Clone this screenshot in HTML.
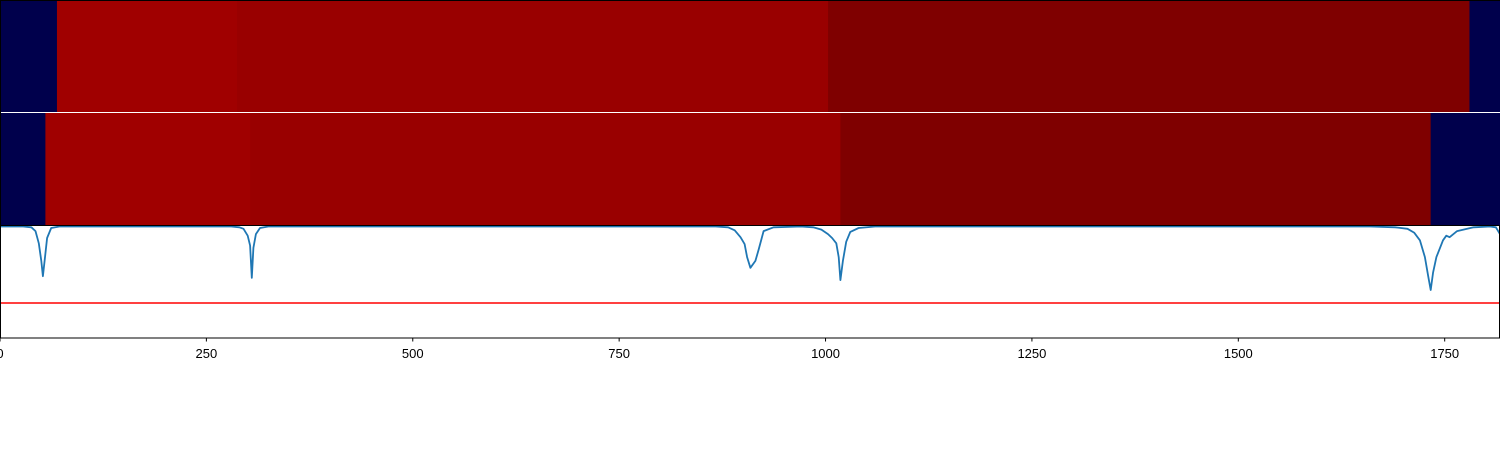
<!DOCTYPE html>
<html><head><meta charset="utf-8"><style>
body{margin:0;background:#fff;width:1500px;height:450px;overflow:hidden;font-family:"Liberation Sans","DejaVu Sans",sans-serif}
</style></head><body>
<svg id="chart" width="1500" height="450" xmlns="http://www.w3.org/2000/svg"></svg>
<script>
const xTicks=[0,250,500,750,1000,1250,1500,1750];
const xMax=1817;
const row1Starts=[0,69,287,1003,1780];
const row1Ends=[69,287,1003,1780,1817];
const row1Colors=["#00004c","#a00000","#990000","#7f0000","#00004c"];
const row2Starts=[0,55,303,1018,1733];
const row2Ends=[55,303,1018,1733,1817];
const row2Colors=["#00004c","#a00000","#990000","#7f0000","#00004c"];
const lineX=[0,28,38,43,47,50,52,54,57,62,72,200,280,290,295,300,303,305,307,310,315,325,600,867,882,890,897,902,905,909,915,919,925,937,970,985,995,1003,1008,1013,1016,1018,1021,1025,1030,1040,1060,1300,1660,1690,1705,1713,1720,1726,1730,1733,1736,1740,1748,1752,1756,1765,1785,1805,1812,1817];
const lineY=[1,1,0.99,0.94,0.78,0.55,0.35,0.55,0.85,0.98,1,1,1,0.99,0.97,0.88,0.75,0.33,0.72,0.9,0.98,1,1,1,0.99,0.95,0.86,0.77,0.6,0.46,0.55,0.7,0.94,0.99,1,0.99,0.96,0.9,0.85,0.78,0.6,0.3,0.55,0.8,0.93,0.98,1,1,1,0.99,0.97,0.92,0.82,0.6,0.35,0.17,0.4,0.6,0.82,0.88,0.86,0.94,0.99,1,0.99,0.9];
const redLevel=0;
const NS="http://www.w3.org/2000/svg";
const svg=document.getElementById('chart');
const sx=v=>v/xMax*1500;
const sy=v=>303-76.5*v;
function mk(t,a){const e=document.createElementNS(NS,t);for(const k in a)e.setAttribute(k,a[k]);svg.appendChild(e);return e;}
function row(starts,ends,colors,y0,h,name){
 for(let i=0;i<starts.length;i++){
  const r=mk('rect',{x:sx(starts[i]),y:y0,width:sx(ends[i])-sx(starts[i])+0.5,height:h,fill:colors[i]});
  
  
 }
}
row(row1Starts,row1Ends,row1Colors,0,112,'heatmap-row-1');
row(row2Starts,row2Ends,row2Colors,113,112.5,'heatmap-row-2');
const rl=mk('line',{x1:0,x2:1500,y1:sy(redLevel),y2:sy(redLevel),stroke:'#ff0000','stroke-width':1.5});


let d='';lineX.forEach((x,i)=>{d+=(i?'L':'M')+sx(x).toFixed(1)+','+sy(lineY[i]).toFixed(1);});
const p=mk('path',{d:d,fill:'none',stroke:'#1f77b4','stroke-width':1.8,'stroke-linejoin':'round'});


const fr=mk('path',{d:'M0.5,225.5V338M1499.5,225.5V338M0,225.5H1500M0,338H1500',stroke:'#000','stroke-width':1,fill:'none'});


const topB=mk('path',{d:'M0,0.5H1500M0.5,0V225',stroke:'#000','stroke-width':1,fill:'none'});


xTicks.forEach(t=>{
 const x=sx(t);
 const tk=mk('line',{x1:x,x2:x,y1:338,y2:341.5,stroke:'#000','stroke-width':1});
 
 
 const lb=mk('text',{x:x,y:358,'text-anchor':'middle','font-size':'13px',fill:'#000'});
 lb.textContent=t;
 
 
});
</script>
</body></html>
